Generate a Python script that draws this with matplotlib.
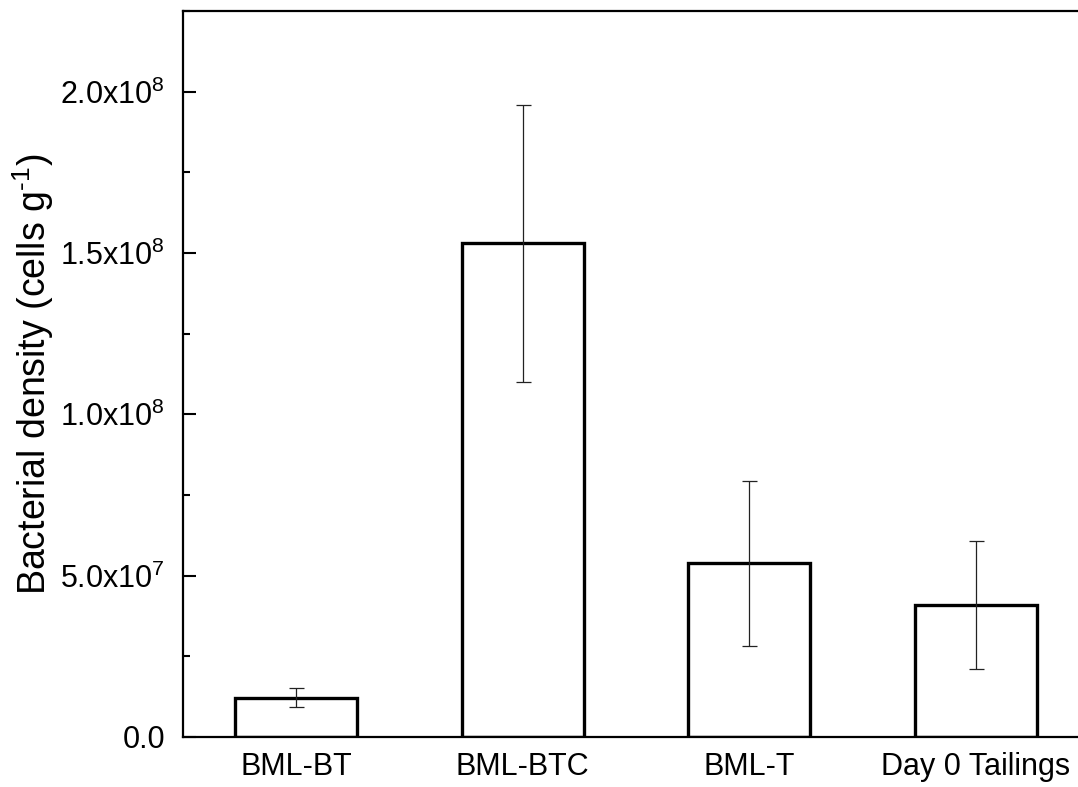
import matplotlib
matplotlib.use("Agg")
import matplotlib.pyplot as plt
from matplotlib.ticker import MultipleLocator, FuncFormatter

plt.rcParams['font.family'] = ['Liberation Sans', 'DejaVu Sans']
plt.rcParams['mathtext.fontset'] = 'custom'
plt.rcParams['mathtext.rm'] = 'Liberation Sans'
plt.rcParams['mathtext.it'] = 'Liberation Sans:italic'
plt.rcParams['mathtext.bf'] = 'Liberation Sans:bold'

categories = ["BML-BT", "BML-BTC", "BML-T", "Day 0 Tailings"]
density = [1.22e7, 1.53e8, 5.38e7, 4.08e7]
errors = [0.29e7, 0.43e8, 2.56e7, 1.98e7]
positions = [1, 2, 3, 4]

fig = plt.figure(figsize=(10.78, 7.87), dpi=100)
ax = fig.add_axes([183/1078, 50/787, (1089-183)/1078, 726/787])

ax.bar(positions, density, width=0.54, facecolor='white', edgecolor='black',
       linewidth=2.4, zorder=2)
ax.errorbar(positions, density, yerr=errors, fmt='none', ecolor='#222222',
            elinewidth=0.9, capsize=5.4, capthick=0.9, zorder=3)

ax.set_xlim(0.5, 4.5)
ax.set_ylim(0, 2.25e8)
ax.set_xticks(positions)
ax.set_xticklabels(categories, fontsize=22)

ax.yaxis.set_major_locator(MultipleLocator(5e7))
ax.yaxis.set_minor_locator(MultipleLocator(2.5e7))

def fmt(v, pos):
    if v == 0:
        return "0.0"
    exp = 0
    m = v
    while abs(m) >= 10:
        m /= 10.0
        exp += 1
    return "%.1fx10$^{%d}$" % (m, exp)

ax.yaxis.set_major_formatter(FuncFormatter(fmt))
ax.tick_params(axis='y', which='major', direction='in', length=9.5, width=1.5,
               labelsize=22, pad=13)
ax.tick_params(axis='y', which='minor', direction='in', length=5, width=1.5)
ax.tick_params(axis='x', which='both', length=0, pad=11)

for s in ['left', 'bottom', 'top', 'right']:
    ax.spines[s].set_linewidth(1.6)

ax.set_ylabel("Bacterial density (cells g$^{\\text{-}1}$)", fontsize=27, labelpad=3)

fig.savefig("out.png", dpi=100)
